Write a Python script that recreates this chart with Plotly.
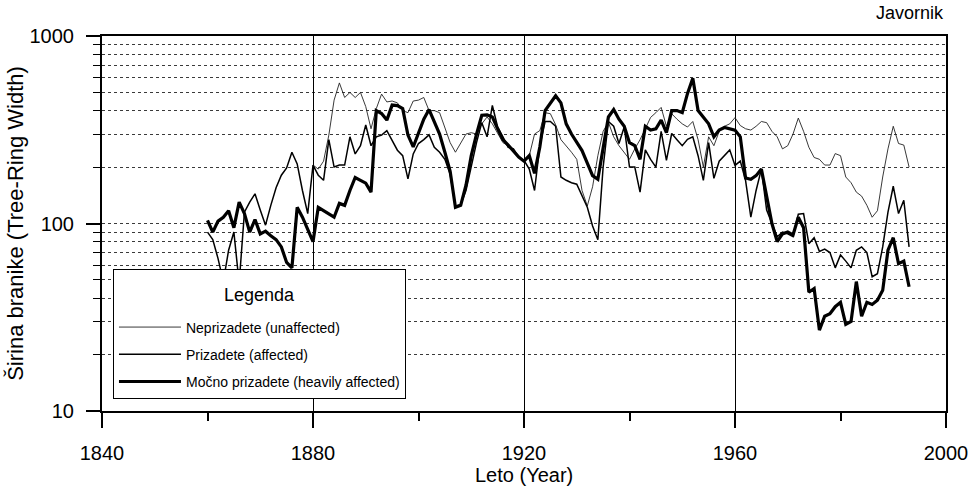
import plotly.graph_objects as go

# ---------------- data ----------------
years_all = list(range(1860, 1994))
years_unaff = list(range(1880, 1994))

# Neprizadete (unaffected) 1880-1993
unaffected = [
    205, 195, 215, 296, 455, 562, 470, 500, 470, 500,
    420, 320, 410, 490, 445, 450, 440, 400, 390, 450,
    455, 470, 400, 400, 390, 320, 270, 240, 270, 300,
    305, 300, 340, 370, 340, 300, 270, 260, 245, 230,
    215, 230, 300, 313, 390, 385, 336, 280, 260, 240,
    220, 150, 124, 157, 230, 310, 347, 290, 260, 240,
    220, 250, 280, 320, 368, 390, 416, 330, 385, 360,
    340, 327, 350, 280, 200, 290, 260, 310, 330, 340,
    367, 333, 320, 315, 330, 350, 345, 310, 290, 250,
    260, 300, 365, 310, 255, 225, 220, 205, 205, 236,
    230, 177, 165, 147, 140, 125, 108, 117, 177, 250,
    330, 267, 262, 200,
]

# Prizadete (affected) 1860-1993
affected = [
    90, 82, 65, 49, 72, 90, 48, 115, 130, 144,
    118, 98, 125, 155, 181, 198, 240, 208, 150, 113,
    205, 181, 170, 280, 200, 205, 205, 290, 235, 260,
    335, 260, 290, 296, 313, 278, 246, 230, 173, 235,
    267, 280, 297, 255, 240, 220, 183, 124, 126, 150,
    200, 270, 345, 290, 426, 327, 290, 255, 250, 225,
    217, 195, 150, 260, 350, 350, 330, 177, 170, 165,
    162, 140, 122, 97, 82, 200, 350, 330, 267, 327,
    200, 200, 147, 247, 220, 200, 310, 217, 302, 280,
    260, 281, 290, 230, 170, 270, 174, 215, 230, 247,
    204, 215, 170, 108, 150, 195, 118, 100, 85, 90,
    88, 85, 112, 113, 78, 84, 71, 73, 70, 58,
    68, 63, 58, 72, 75, 70, 52, 54, 75, 115,
    158, 113, 133, 75,
]

# Mocno prizadete (heavily affected) 1860-1993
heavily = [
    104, 90, 103, 108, 117, 95, 130, 113, 90, 105,
    88, 91, 86, 82, 75, 62, 58, 122, 108, 93,
    80, 122, 117, 112, 108, 128, 125, 150, 176, 170,
    164, 147, 400, 386, 356, 428, 425, 410, 296, 256,
    300, 360, 405, 345, 300, 240, 190, 122, 125, 160,
    230, 300, 378, 380, 370, 320, 280, 262, 245, 226,
    215, 230, 185, 256, 400, 440, 480, 440, 340, 300,
    270, 245, 210, 180, 172, 256, 370, 405, 360, 330,
    270, 260, 220, 330, 315, 320, 356, 305, 400, 400,
    390, 494, 595, 400, 370, 340, 290, 315, 325, 320,
    315, 290, 175, 172, 180, 195, 140, 100, 80, 88,
    90, 87, 108, 95, 43, 45, 27, 32, 33, 36,
    38, 29, 30, 49, 32, 38, 37, 39, 44, 72,
    84, 61, 63, 46,
]

x_major = [1840, 1880, 1920, 1960, 2000]
x_minor = [1860, 1900, 1940, 1980]
y_major = [10, 100, 1000]
y_major_text = ["10", "100", "1000"]
y_minor = [20, 30, 40, 50, 60, 70, 80, 90, 200, 300, 400, 500, 600, 700, 800, 900]

names = ["Neprizadete (unaffected)", "Prizadete (affected)", "Močno prizadete (heavily affected)"]

# ---------------- figure ----------------
FONT = "Arial, Liberation Sans, Helvetica, sans-serif"
GRID = "#3a3a3a"

fig = go.Figure()
fig.add_trace(go.Scatter(x=years_unaff, y=unaffected, mode="lines", name=names[0],
                         legendgroup="a", line=dict(color="#222222", width=0.9)))
fig.add_trace(go.Scatter(x=years_all, y=affected, mode="lines", name=names[1],
                         legendgroup="b", line=dict(color="black", width=1.5)))
fig.add_trace(go.Scatter(x=years_all, y=heavily, mode="lines", name=names[2],
                         legendgroup="c", line=dict(color="black", width=3.2)))

fig.update_layout(
    width=979, height=489,
    margin=dict(l=102, r=33, t=36, b=78, autoexpand=False),
    paper_bgcolor="white", plot_bgcolor="white",
    font=dict(family=FONT, size=20, color="black"),
    showlegend=True,
    legend=dict(
        x=0.013, y=0.379, xanchor="left", yanchor="top",
        bgcolor="white", bordercolor="black", borderwidth=1,
        font=dict(size=14, family=FONT),
        title=dict(text="<br><br><span style='font-size:18px'>Legenda</span><br> ",
                   side="top center", font=dict(size=8, family=FONT)),
        tracegroupgap=6, itemwidth=62,
    ),
    annotations=[
        dict(text="Javornik", xref="paper", yref="paper", x=1.0, y=1.0,
             xanchor="right", yanchor="bottom", yshift=11, showarrow=False,
             font=dict(size=18, family=FONT)),
        dict(text="Leto (Year)", xref="paper", yref="paper", x=0.5, y=-0.171,
             xanchor="center", yanchor="middle", showarrow=False,
             font=dict(size=20, family=FONT)),
    ],
)

fig.update_xaxes(
    range=[1840, 2000], tickmode="array", tickvals=x_major,
    ticks="outside", ticklen=15, tickwidth=1.5, tickcolor="black",
    ticklabelstandoff=8, automargin=False,
    showline=True, linewidth=2, linecolor="black", mirror=True,
    showgrid=True, gridcolor="black", gridwidth=1,
    zeroline=False,
    minor=dict(tickmode="array", tickvals=x_minor, ticks="outside", ticklen=8,
               tickcolor="black", tickwidth=1.5, showgrid=False),
)

fig.update_yaxes(
    type="log", range=[1, 3], tickmode="array", tickvals=y_major, ticktext=y_major_text,
    ticks="outside", ticklen=14, tickwidth=1.5, tickcolor="black",
    ticklabelstandoff=8, automargin=False,
    showline=True, linewidth=2, linecolor="black", mirror=True,
    showgrid=True, gridcolor=GRID, gridwidth=1, griddash="3px,3px",
    zeroline=False,
    minor=dict(tickmode="array", tickvals=y_minor, ticks="outside", ticklen=7,
               tickcolor="black", tickwidth=1.2, showgrid=True, gridcolor=GRID,
               gridwidth=1, griddash="3px,3px"),
    title=dict(text="Širina branike (Tree-Ring Width)", font=dict(size=22), standoff=0),
)

fig.write_html("out.html", config={"displayModeBar": False},
               post_script="document.body.style.margin='0';")
